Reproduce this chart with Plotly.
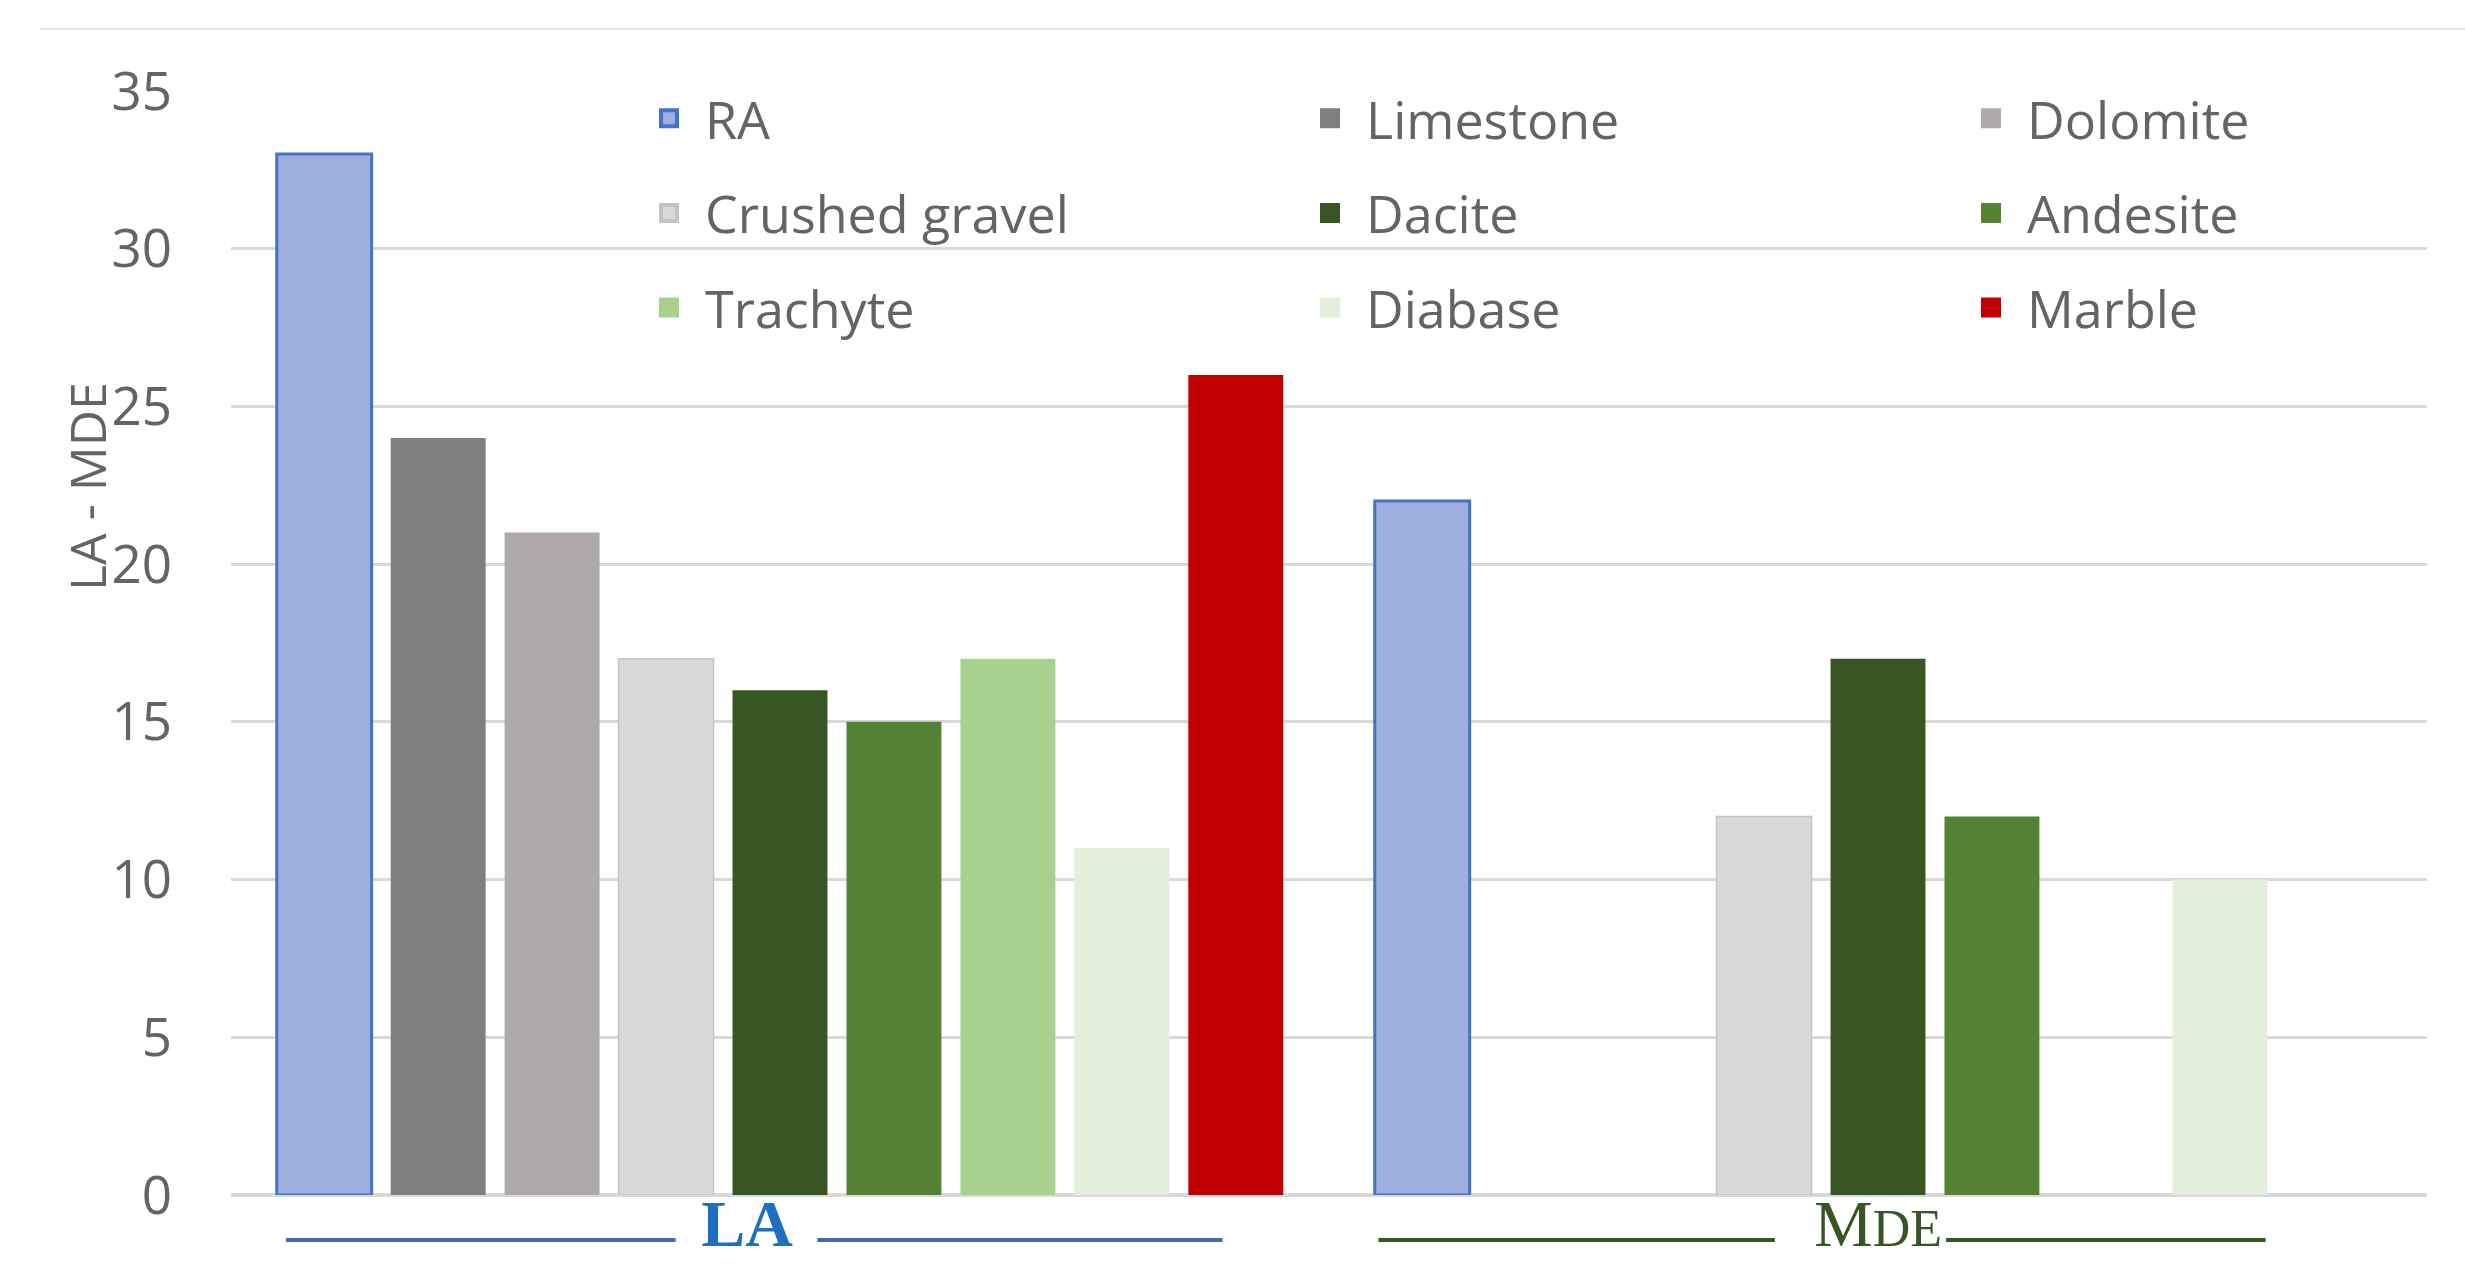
import plotly.graph_objects as go

# ---- data ----
categories = ["LA", "MDE"]
series_names = ["RA", "Limestone", "Dolomite", "Crushed gravel", "Dacite",
                "Andesite", "Trachyte", "Diabase", "Marble"]
ra = [33, 22]
limestone = [24, None]
dolomite = [21, None]
crushed_gravel = [17, 12]
dacite = [16, 17]
andesite = [15, 12]
trachyte = [17, None]
diabase = [11, 10]
marble = [26, None]
y_tick_values = [0, 5, 10, 15, 20, 25, 30, 35]
category_labels = [
    "<span style='color:#1f6fc0'><b>LA</b></span>\u00a0\u00a0\u00a0\u00a0",
    "<span style='color:#375623'>M<span style='font-size:52px'>DE</span></span>",
]
y_title = "LA - MDE"

series_values = [ra, limestone, dolomite, crushed_gravel, dacite,
                 andesite, trachyte, diabase, marble]

# ---- style ----
fill_colors = ["#9eafdf", "#7f7f7f", "#aeaaaa", "#d9d9d9", "#375623",
               "#548235", "#a9d18e", "#e2efda", "#c00000"]
line_colors = ["#4472c4", "#7f7f7f", "#aeaaaa", "#c4c4c4", "#375623",
               "#548235", "#a9d18e", "#e2efda", "#c00000"]
line_widths = [3, 0, 0, 1.5, 0, 0, 0, 0, 0]
legend_keys = ["legend", "legend2", "legend3"]

FONT = "Open Sans, Lato, sans-serif"
TEXT_GRAY = "#646464"

W, H = 2465, 1266
PL, PR, PT, PB = 231, 2427, 91, 1195          # plot area, absolute px
L, T, R, B = PL, PT, W - PR, H - PB
PW, PH = PR - PL, PB - PT


def px_x(ax):
    return (ax - PL) / PW


def px_y(ay):
    return (PB - ay) / PH


fig = go.Figure()
for i, (name, vals) in enumerate(zip(series_names, series_values)):
    fig.add_trace(go.Bar(
        name=name,
        x=categories,
        y=vals,
        marker=dict(color=fill_colors[i],
                    line=dict(color=line_colors[i], width=line_widths[i])),
        legendgroup=name,
        showlegend=False,
    ))

# legend entries (square swatches, larger than the default bar swatch)
for i, name in enumerate(series_names):
    fig.add_trace(go.Scatter(
        name=name,
        x=[None], y=[None],
        mode="markers",
        marker=dict(symbol="square", size=16, color=fill_colors[i],
                    line=dict(color=line_colors[i] if i in (0, 3) else fill_colors[i],
                              width=4)),
        legend=legend_keys[i % 3],
        legendgroup=name,
        hoverinfo="skip",
    ))

legend_common = dict(
    orientation="v",
    bgcolor="rgba(0,0,0,0)",
    font=dict(family=FONT, size=52, color=TEXT_GRAY),
    tracegroupgap=24,
    yanchor="top",
    xanchor="left",
    y=px_y(78),
    itemwidth=62,
)
col_centers = [669, 1330, 1991]

fig.update_layout(
    width=W, height=H,
    margin=dict(l=L, r=R, t=T, b=B, pad=0, autoexpand=False),
    paper_bgcolor="white",
    plot_bgcolor="white",
    barmode="group",
    bargap=0.066,
    bargroupgap=0.167,
    font=dict(family=FONT, color=TEXT_GRAY),
    legend=dict(x=px_x(col_centers[0] - 36), **legend_common),
    legend2=dict(x=px_x(col_centers[1] - 36), **legend_common),
    legend3=dict(x=px_x(col_centers[2] - 36), **legend_common),
    xaxis=dict(
        type="category",
        tickmode="array",
        tickvals=categories,
        ticktext=category_labels,
        tickfont=dict(family="Liberation Serif, serif", size=66),
        showgrid=False,
        showline=False,
        zeroline=False,
        ticks="",
        ticklabelstandoff=-16,
        automargin=False,
    ),
    yaxis=dict(
        range=[0, 35],
        tickmode="array",
        tickvals=y_tick_values,
        tickfont=dict(family=FONT, size=53, color=TEXT_GRAY),
        showgrid=True,
        gridcolor="#d9d9d9",
        gridwidth=2.5,
        zeroline=True,
        zerolinecolor="#d9d9d9",
        zerolinewidth=3.5,
        showline=False,
        ticks="",
        ticklabelstandoff=58,
        automargin=False,
    ),
)

# y-axis title (positioned like the original, above centre)
fig.add_annotation(
    text=y_title, textangle=-90, showarrow=False,
    xref="paper", yref="paper",
    x=px_x(87), y=px_y(487),
    xanchor="center", yanchor="middle",
    font=dict(family=FONT, size=50, color=TEXT_GRAY),
)

# decorative underline segments beside the category labels
line_y = px_y(1240)
for (x0, x1, col) in [(-0.45, -0.095, "#4a6ab0"), (0.034, 0.403, "#4a6ab0"),
                      (0.545, 0.906, "#375623"), (1.062, 1.353, "#375623")]:
    fig.add_shape(type="line", xref="x", yref="paper",
                  x0=x0, x1=x1, y0=line_y, y1=line_y,
                  line=dict(color=col, width=4))

# chart-area top border
fig.add_shape(type="line", xref="paper", yref="paper",
              x0=px_x(40), x1=px_x(2470),
              y0=px_y(29), y1=px_y(29),
              line=dict(color="#e3e3e3", width=2))

# remove the default 8px page margin so the figure fills the window exactly
fig.write_html("out.html",
               config={"displayModeBar": False},
               post_script="document.body.style.margin='0';")
